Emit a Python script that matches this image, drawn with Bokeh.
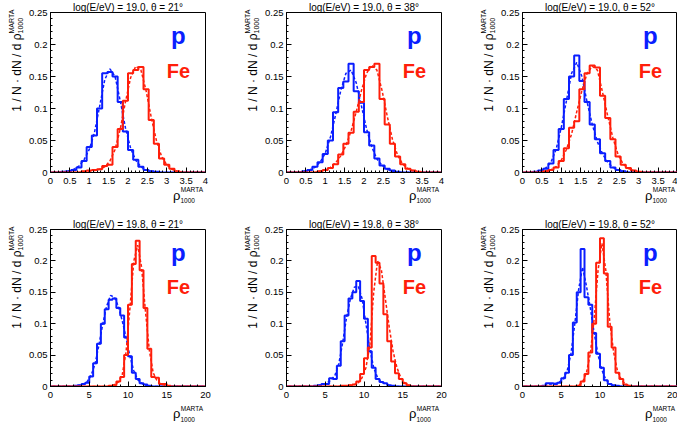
import numpy as np
from bokeh.plotting import figure
from bokeh.models import Label, FixedTicker
from bokeh.layouts import gridplot
from bokeh.embed import file_html
from bokeh.resources import INLINE

# ---------------- data ----------------
TITLES = [
    ["log(E/eV) = 19.0, \u03b8 = 21\u00b0", "log(E/eV) = 19.0, \u03b8 = 38\u00b0", "log(E/eV) = 19.0, \u03b8 = 52\u00b0"],
    ["log(E/eV) = 19.8, \u03b8 = 21\u00b0", "log(E/eV) = 19.8, \u03b8 = 38\u00b0", "log(E/eV) = 19.8, \u03b8 = 52\u00b0"],
]
TOP_XMAX, TOP_NBINS = 4, 30
BOT_XMAX, BOT_NBINS = 20, 40
TOP_X_TICKS = [0, 0.5, 1, 1.5, 2, 2.5, 3, 3.5, 4]
TOP_X_LABELS = ["0", "0.5", "1", "1.5", "2", "2.5", "3", "3.5", "4"]
BOT_X_TICKS = [0, 5, 10, 15, 20]
BOT_X_LABELS = ["0", "5", "10", "15", "20"]
Y_TICKS = [0, 0.05, 0.1, 0.15, 0.2, 0.25]
Y_LABELS = ["0", "0.05", "0.1", "0.15", "0.2", "0.25"]

# log(E/eV)=19.0 (30 bins over 0..4)
P_190_21 = [0, 0, 0.001, 0.002, 0.004, 0.008, 0.018, 0.040, 0.058, 0.100, 0.155, 0.157, 0.150, 0.110, 0.064, 0.035, 0.020, 0.009, 0.004, 0.002, 0.001]
P_190_21_D = [0, 0, 0.001, 0.002, 0.005, 0.010, 0.020, 0.036, 0.062, 0.103, 0.145, 0.162, 0.150, 0.112, 0.070, 0.038, 0.019, 0.009, 0.004, 0.002, 0.001]
FE_190_21 = [0, 0, 0, 0, 0, 0, 0.002, 0.003, 0.004, 0.005, 0.010, 0.012, 0.040, 0.068, 0.112, 0.155, 0.160, 0.165, 0.130, 0.082, 0.045, 0.022, 0.012, 0.006, 0.002]
FE_190_21_D = [0, 0, 0, 0, 0, 0, 0.001, 0.002, 0.003, 0.005, 0.009, 0.018, 0.036, 0.068, 0.110, 0.148, 0.166, 0.160, 0.128, 0.086, 0.050, 0.025, 0.012, 0.005, 0.002]

P_190_38 = [0, 0, 0, 0.002, 0.004, 0.009, 0.016, 0.029, 0.050, 0.094, 0.132, 0.142, 0.170, 0.127, 0.109, 0.063, 0.042, 0.022, 0.011, 0.006, 0.003, 0.001]
P_190_38_D = [0, 0, 0, 0.002, 0.004, 0.008, 0.016, 0.030, 0.055, 0.090, 0.128, 0.155, 0.160, 0.140, 0.104, 0.068, 0.040, 0.021, 0.011, 0.005, 0.002, 0.001]
FE_190_38 = [0, 0, 0, 0, 0, 0, 0.002, 0.004, 0.007, 0.013, 0.028, 0.045, 0.062, 0.095, 0.110, 0.160, 0.165, 0.170, 0.115, 0.075, 0.045, 0.025, 0.013, 0.006, 0.003, 0.001]
FE_190_38_D = [0, 0, 0, 0, 0, 0, 0.002, 0.004, 0.008, 0.015, 0.026, 0.042, 0.065, 0.095, 0.128, 0.155, 0.168, 0.160, 0.128, 0.088, 0.052, 0.027, 0.013, 0.006, 0.003, 0.001]

P_190_52 = [0, 0, 0.001, 0.003, 0.006, 0.014, 0.035, 0.068, 0.115, 0.150, 0.183, 0.143, 0.110, 0.075, 0.052, 0.030, 0.018, 0.008, 0.004, 0.002]
P_190_52_D = [0, 0, 0.001, 0.003, 0.007, 0.016, 0.036, 0.070, 0.112, 0.155, 0.172, 0.150, 0.110, 0.075, 0.048, 0.029, 0.016, 0.008, 0.004, 0.002]
FE_190_52 = [0, 0, 0, 0, 0.002, 0.004, 0.008, 0.018, 0.038, 0.070, 0.080, 0.130, 0.155, 0.167, 0.164, 0.120, 0.085, 0.052, 0.025, 0.012, 0.007, 0.003, 0.001]
FE_190_52_D = [0, 0, 0, 0, 0.002, 0.004, 0.009, 0.019, 0.036, 0.060, 0.095, 0.128, 0.155, 0.166, 0.160, 0.125, 0.088, 0.054, 0.028, 0.013, 0.006, 0.003, 0.001]

# log(E/eV)=19.8 (40 bins over 0..20)
P_198_21 = [0, 0, 0, 0, 0, 0, 0.001, 0.002, 0.004, 0.006, 0.016, 0.037, 0.068, 0.100, 0.123, 0.138, 0.140, 0.125, 0.113, 0.078, 0.048, 0.022, 0.012, 0.005, 0.003, 0.001]
P_198_21_D = [0, 0, 0, 0, 0, 0, 0.001, 0.002, 0.004, 0.008, 0.018, 0.036, 0.066, 0.100, 0.128, 0.145, 0.142, 0.128, 0.105, 0.078, 0.048, 0.025, 0.011, 0.005, 0.002, 0.001]
FE_198_21 = [0] * 15 + [0.001, 0.002, 0.008, 0.015, 0.050, 0.130, 0.195, 0.232, 0.185, 0.125, 0.060, 0.015, 0.014, 0.004, 0.004, 0.001]
FE_198_21_D = [0] * 15 + [0.001, 0.003, 0.007, 0.018, 0.055, 0.125, 0.200, 0.225, 0.190, 0.120, 0.058, 0.022, 0.009, 0.004, 0.002, 0.001]

P_198_38 = [0] * 7 + [0.001, 0.002, 0.004, 0.004, 0.013, 0.012, 0.033, 0.072, 0.113, 0.140, 0.150, 0.168, 0.136, 0.108, 0.056, 0.030, 0.012, 0.007, 0.005, 0.002, 0.001]
P_198_38_D = [0] * 7 + [0.001, 0.002, 0.003, 0.006, 0.010, 0.018, 0.036, 0.070, 0.110, 0.140, 0.158, 0.160, 0.140, 0.100, 0.060, 0.030, 0.014, 0.007, 0.004, 0.002, 0.001]
FE_198_38 = [0] * 14 + [0.001, 0.001, 0.002, 0.003, 0.008, 0.020, 0.045, 0.062, 0.208, 0.197, 0.164, 0.115, 0.072, 0.040, 0.021, 0.012, 0.005, 0.002]
FE_198_38_D = [0] * 14 + [0.001, 0.001, 0.002, 0.003, 0.006, 0.014, 0.030, 0.065, 0.150, 0.200, 0.185, 0.140, 0.095, 0.056, 0.030, 0.014, 0.006, 0.002]

P_198_52 = [0] * 5 + [0.001, 0.005, 0.005, 0.004, 0.006, 0.013, 0.022, 0.050, 0.102, 0.150, 0.219, 0.142, 0.130, 0.085, 0.052, 0.030, 0.010, 0.004, 0.002, 0.001]
P_198_52_D = [0] * 5 + [0.001, 0.003, 0.004, 0.005, 0.007, 0.012, 0.024, 0.052, 0.100, 0.155, 0.190, 0.160, 0.125, 0.085, 0.050, 0.026, 0.011, 0.004, 0.002, 0.001]
FE_198_52 = [0] * 14 + [0.001, 0.008, 0.020, 0.054, 0.100, 0.197, 0.236, 0.180, 0.095, 0.062, 0.022, 0.012, 0.003, 0.001]
FE_198_52_D = [0] * 14 + [0.002, 0.007, 0.022, 0.052, 0.108, 0.185, 0.228, 0.185, 0.105, 0.055, 0.025, 0.011, 0.004, 0.001]

SERIES = [
    [(P_190_21, P_190_21_D, FE_190_21, FE_190_21_D),
     (P_190_38, P_190_38_D, FE_190_38, FE_190_38_D),
     (P_190_52, P_190_52_D, FE_190_52, FE_190_52_D)],
    [(P_198_21, P_198_21_D, FE_198_21, FE_198_21_D),
     (P_198_38, P_198_38_D, FE_198_38, FE_198_38_D),
     (P_198_52, P_198_52_D, FE_198_52, FE_198_52_D)],
]

# ---------------- style ----------------
FONT = "Liberation Sans"
BLUE = "#0a1eff"
RED = "#ff1e0a"
FW, FH = 160, 160


def pad(vals, n):
    vals = list(vals)[:n]
    return vals + [0.0] * (n - len(vals))


def lab(**kw):
    base = dict(text_font=FONT, text_color="black", text_baseline="alphabetic")
    base.update(kw)
    return Label(**base)


def make_panel(row, col):
    top = row == 0
    xmax = TOP_XMAX if top else BOT_XMAX
    nb = TOP_NBINS if top else BOT_NBINS
    left, right = 45, (31 if col < 2 else 0)
    tb, bb = 12, (45 if top else 38)
    fig = figure(width=left + FW + right, height=tb + FH + bb,
                 x_range=(0, xmax), y_range=(0, 0.25),
                 output_backend="svg", toolbar_location=None, title=None,
                 min_border_left=left, min_border_right=right,
                 min_border_top=tb, min_border_bottom=bb)
    fig.background_fill_color = "white"
    fig.border_fill_color = "white"
    fig.outline_line_color = "black"
    fig.outline_line_width = 1
    fig.outline_line_alpha = 1
    fig.xgrid.visible = False
    fig.ygrid.visible = False

    xt = TOP_X_TICKS if top else BOT_X_TICKS
    xl = TOP_X_LABELS if top else BOT_X_LABELS
    xminor_step = 0.1 if top else 1.0
    xminor = [round(v, 4) for v in np.arange(0, xmax + 1e-9, xminor_step)]
    yminor = [round(v, 4) for v in np.arange(0, 0.25 + 1e-9, 0.01)]
    fig.xaxis.ticker = FixedTicker(ticks=xt, minor_ticks=xminor)
    fig.yaxis.ticker = FixedTicker(ticks=Y_TICKS, minor_ticks=yminor)
    fig.xaxis.major_label_overrides = {t: s for t, s in zip(xt, xl)}
    fig.yaxis.major_label_overrides = {t: s for t, s in zip(Y_TICKS, Y_LABELS)}
    for ax in (fig.xaxis[0], fig.yaxis[0]):
        ax.axis_line_color = "black"
        ax.axis_line_width = 1
        ax.major_tick_in = 5
        ax.major_tick_out = 0
        ax.minor_tick_in = 2
        ax.minor_tick_out = 0
        ax.major_tick_line_color = "black"
        ax.minor_tick_line_color = "black"
        ax.major_label_text_font = FONT
        ax.major_label_text_font_size = "9.5px"
        ax.major_label_text_color = "black"
    fig.xaxis.major_label_standoff = 5
    fig.yaxis.major_label_standoff = 3

    p_vals, p_dash, fe_vals, fe_dash = SERIES[row][col]
    edges = np.linspace(0, xmax, nb + 1)
    centers = 0.5 * (edges[:-1] + edges[1:])
    for vals, dash, color in ((p_vals, p_dash, BLUE), (fe_vals, fe_dash, RED)):
        v = pad(vals, nb)
        d = pad(dash, nb)
        fig.line(x=centers, y=d, line_color=color, line_width=1.5, line_dash="3 2")
        fig.step(x=edges, y=v + [v[-1]], mode="after", line_color=color, line_width=2)

    # p / Fe markers (inside the frame)
    fig.add_layout(Label(x=0.825 * xmax, y=0.214, text="p", text_align="center",
                         text_baseline="alphabetic", text_font=FONT, text_font_size="24px",
                         text_font_style="bold", text_color=BLUE))
    fig.add_layout(Label(x=0.825 * xmax, y=0.158, text="Fe", text_align="center",
                         text_baseline="alphabetic", text_font=FONT, text_font_size="20px",
                         text_font_style="bold", text_color=RED))

    # title (above)
    fig.add_layout(lab(x=xmax / 2, y=0.25, y_offset=5.4, text=TITLES[row][col],
                       text_align="center", text_font_size="10px"), "above")
    # x axis title rho^MARTA_1000, right-aligned at the end of the axis (below)
    sub_w = 25.0
    if top:
        y_sup, y_rho, y_sub = -17.4, -22.5, -28.4
    else:
        y_sup, y_rho, y_sub = -22.4, -26.5, -33.0
    fig.add_layout(lab(x=xmax, y=0, x_offset=-sub_w, y_offset=y_rho, text="\u03c1",
                       text_align="right", text_font_size="13px"), "below")
    fig.add_layout(lab(x=xmax, y=0, x_offset=-2.5, y_offset=y_sup, text="MARTA",
                       text_align="right", text_font_size="6.5px"), "below")
    fig.add_layout(lab(x=xmax, y=0, x_offset=-sub_w, y_offset=y_sub, text="1000",
                       text_align="left", text_font_size="6.5px"), "below")
    # y axis title (rotated), aligned at the top of the axis (left)
    ang = np.pi / 2
    fig.add_layout(lab(x=0, y=0.25, x_offset=-33.2, y_offset=-21, angle=ang,
                       text="1 / N \u00b7 dN / d \u03c1", text_align="right",
                       text_font_size="12px"), "left")
    fig.add_layout(lab(x=0, y=0.25, x_offset=-38.8, y_offset=-21, angle=ang,
                       text="MARTA", text_align="left", text_font_size="7px"), "left")
    fig.add_layout(lab(x=0, y=0.25, x_offset=-30.3, y_offset=-21, angle=ang,
                       text="1000", text_align="left", text_font_size="7px"), "left")
    return fig


figs = [[make_panel(r, c) for c in range(3)] for r in range(2)]
grid = gridplot(figs, toolbar_location=None)

open("out.html", "w").write(file_html(grid, INLINE))
